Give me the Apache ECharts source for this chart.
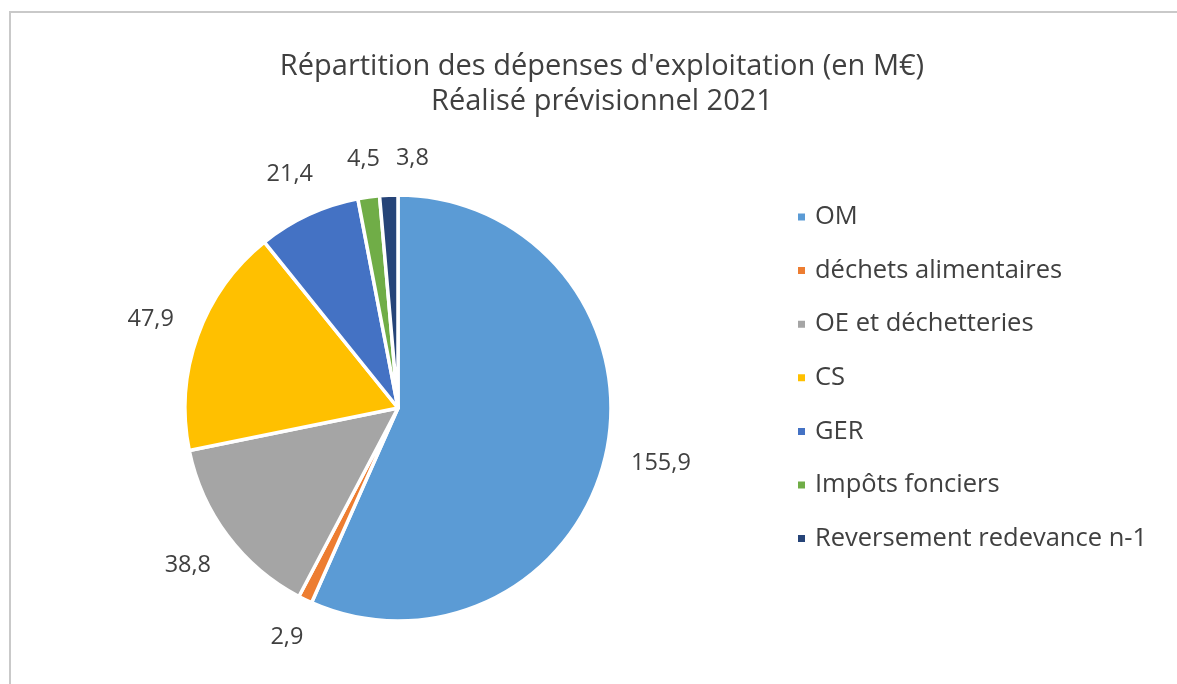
<!DOCTYPE html>
<html>
<head>
<meta charset="utf-8">
<script src="https://cdn.jsdelivr.net/npm/echarts@6/dist/echarts.min.js"></script>
<style>
html,body{margin:0;padding:0;background:#fff;}
#frame{position:absolute;left:9px;top:11px;width:1200px;height:700px;border-top:2px solid #c9c9c9;border-left:2px solid #c9c9c9;}
#chart{position:absolute;left:0;top:0;width:1177px;height:684px;}
</style>
</head>
<body>
<div id="frame"></div>
<div id="chart"></div>
<script>
const categories = ["OM", "déchets alimentaires", "OE et déchetteries", "CS", "GER", "Impôts fonciers", "Reversement redevance n-1"];
const values = [155.9, 2.9, 38.8, 47.9, 21.4, 4.5, 3.8];
const colors = ["#5B9BD5", "#ED7D31", "#A5A5A5", "#FFC000", "#4472C4", "#70AD47", "#264478"];
const titleLines = ["Répartition des dépenses d'exploitation (en M€)", "Réalisé prévisionnel 2021"];

const FONT = "'Open Sans', 'Liberation Sans', Arial, sans-serif";
const LABEL_GAP = 24;
const chart = echarts.init(document.getElementById('chart'), null, {renderer: 'canvas'});

let placed = [];
function radialLabel(params) {
  const data = chart.getModel().getSeriesByIndex(0).getData();
  const lay = data.getItemLayout(params.dataIndex);
  if (params.dataIndex === 0) placed = [];
  const mid = (lay.startAngle + lay.endAngle) / 2;
  const dx = Math.cos(mid), dy = Math.sin(mid);
  const w = params.labelRect.width, h = params.labelRect.height;
  const ext = Math.abs(dx) * w / 2 + Math.abs(dy) * h / 2;
  const dist = lay.r + LABEL_GAP + ext;
  let x = lay.cx + dx * dist;
  let y = lay.cy + dy * dist;
  // resolve overlap with previously placed labels by shifting right
  for (const b of placed) {
    const ox = Math.min(x + w / 2, b.x + b.w / 2) - Math.max(x - w / 2, b.x - b.w / 2);
    const oy = Math.min(y + h / 2, b.y + b.h / 2) - Math.max(y - h / 2, b.y - b.h / 2);
    if (ox > -12 && oy > 0) {
      x = b.x + b.w / 2 + 16 + w / 2;
    }
  }
  placed.push({x, y, w, h});
  return {x, y, align: 'center', verticalAlign: 'middle'};
}

chart.setOption({
  backgroundColor: 'transparent',
  animation: false,
  color: colors,
  title: {
    text: titleLines.join('\n'),
    left: 597,
    top: 44,
    textAlign: 'center',
    textStyle: {fontFamily: FONT, fontSize: 29, fontWeight: 'normal', color: '#404040', lineHeight: 35}
  },
  legend: {
    orient: 'vertical',
    left: 791,
    top: 199,
    itemWidth: 9,
    itemHeight: 9,
    itemGap: 27.6,
    icon: 'rect',
    textStyle: {fontFamily: FONT, fontSize: 25.5, color: '#404040', padding: [0, 0, 0, 4]},
    data: categories
  },
  series: [{
    type: 'pie',
    center: [398, 408],
    radius: [0, 213],
    startAngle: 90,
    clockwise: true,
    avoidLabelOverlap: false,
    data: categories.map((c, i) => ({name: c, value: values[i]})),
    itemStyle: {borderColor: '#fff', borderWidth: 3.5},
    label: {
      show: true,
      position: 'outside',
      formatter: p => String(p.value).replace('.', ','),
      fontFamily: FONT,
      fontSize: 23.5,
      color: '#404040'
    },
    labelLine: {show: false},
    labelLayout: radialLabel,
    emphasis: {disabled: true}
  }]
});
</script>
</body>
</html>
